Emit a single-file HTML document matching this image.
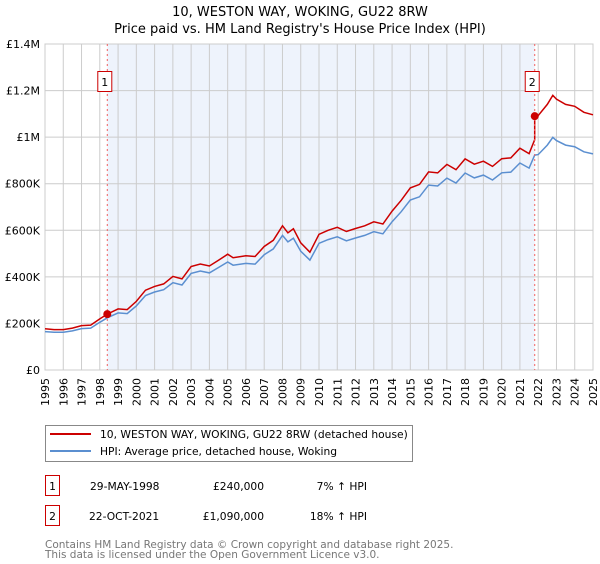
<!DOCTYPE html>
<html><head><meta charset="utf-8"><style>
body{margin:0;background:#fff;font-family:"DejaVu Sans","Liberation Sans",sans-serif;}
svg text{font-family:"DejaVu Sans","Liberation Sans",sans-serif;}
</style></head><body>
<svg id="c" width="600" height="560" xmlns="http://www.w3.org/2000/svg">
<text x="300" y="16" text-anchor="middle" font-size="13">10, WESTON WAY, WOKING, GU22 8RW</text>
<text x="300" y="33" text-anchor="middle" font-size="13">Price paid vs. HM Land Registry's House Price Index (HPI)</text>
<g id="plot"></g>
<g>
<rect x="45.5" y="425.5" width="367" height="36" fill="#fff" stroke="#888"/>
<line x1="50" y1="434" x2="91" y2="434" stroke="#cc0000" stroke-width="2"/>
<text x="100" y="438" font-size="10.7">10, WESTON WAY, WOKING, GU22 8RW (detached house)</text>
<line x1="50" y1="451" x2="91" y2="451" stroke="#5b8fd0" stroke-width="2"/>
<text x="100" y="455" font-size="10.7">HPI: Average price, detached house, Woking</text>
</g>
<g font-size="10.7">
<rect x="45.5" y="475.5" width="14" height="20" fill="#fff" stroke="#cc0000"/>
<text x="52.5" y="490" text-anchor="middle">1</text>
<text x="90" y="490">29-MAY-1998</text>
<text x="264" y="490" text-anchor="end">£240,000</text>
<text x="367" y="490" text-anchor="end">7% ↑ HPI</text>
<rect x="45.5" y="505.5" width="14" height="20" fill="#fff" stroke="#cc0000"/>
<text x="52.5" y="520" text-anchor="middle">2</text>
<text x="89" y="520">22-OCT-2021</text>
<text x="264" y="520" text-anchor="end">£1,090,000</text>
<text x="367" y="520" text-anchor="end">18% ↑ HPI</text>
</g>
<text x="45" y="548" font-size="10.5" fill="#777">Contains HM Land Registry data © Crown copyright and database right 2025.</text>
<text x="45" y="558" font-size="10.5" fill="#777">This data is licensed under the Open Government Licence v3.0.</text>
</svg>
<script>
const hpiYears=[1995,1995.5,1996,1996.5,1997,1997.5,1998,1998.41,1999,1999.5,2000,2000.5,2001,2001.5,2002,2002.5,2003,2003.5,2004,2004.5,2005,2005.3,2006,2006.5,2007,2007.5,2008,2008.3,2008.6,2009,2009.5,2010,2010.5,2011,2011.5,2012,2012.5,2013,2013.5,2014,2014.5,2015,2015.5,2016,2016.5,2017,2017.5,2018,2018.5,2019,2019.5,2020,2020.5,2021,2021.5,2021.81,2022,2022.5,2022.8,2023,2023.5,2024,2024.5,2025];
const hpiValues=[165,162,162,168,178,180,205,224,245,242,275,320,335,345,375,365,415,425,417,440,464,450,458,455,495,520,578,550,566,510,472,544,560,572,555,567,578,594,585,637,680,730,744,794,790,824,803,846,825,837,816,847,850,889,867,923,925,966,999,985,966,959,937,928];
const saleYears=[1998.41,2021.81];
const salePrices=[240,1090];
const yTicks=[0,200,400,600,800,1000,1200,1400];
const yTickLabels=["£0","£200K","£400K","£600K","£800K","£1M","£1.2M","£1.4M"];
const xTicks=[1995,1996,1997,1998,1999,2000,2001,2002,2003,2004,2005,2006,2007,2008,2009,2010,2011,2012,2013,2014,2015,2016,2017,2018,2019,2020,2021,2022,2023,2024,2025];
const NS="http://www.w3.org/2000/svg";
const X0=45,X1=593,Y0=370,Y1=44;
const xs=y=>X0+(y-1995)/30*(X1-X0);
const ys=v=>Y0-v/1400*(Y0-Y1);
const g=document.getElementById('plot');
function mk(t,a){const e=document.createElementNS(NS,t);for(const k in a)e.setAttribute(k,a[k]);g.appendChild(e);return e;}
const sh=mk('rect',{x:xs(saleYears[0]),y:Y1,width:xs(saleYears[1])-xs(saleYears[0]),height:Y0-Y1,fill:'#eef3fc'});


xTicks.forEach(t=>{const l=mk('line',{x1:xs(t),x2:xs(t),y1:Y1,y2:Y0,stroke:'#ccc'});


const tx=mk('text',{x:0,y:0,'font-size':11,'text-anchor':'end',transform:`translate(${xs(t)+4},${Y0+8}) rotate(-90)`});tx.textContent=t;

});
yTicks.forEach((t,i)=>{const l=mk('line',{x1:X0,x2:X1,y1:ys(t),y2:ys(t),stroke:'#ccc'});


const tx=mk('text',{x:40,y:ys(t)+4,'font-size':11,'text-anchor':'end'});tx.textContent=yTickLabels[i];

});
const fr=mk('rect',{x:X0,y:Y1,width:X1-X0,height:Y0-Y1,fill:'none',stroke:'#ccc'});


function hpiAt(y){for(let i=0;i<hpiYears.length-1;i++){if(y<=hpiYears[i+1]){const f=(y-hpiYears[i])/(hpiYears[i+1]-hpiYears[i]);return hpiValues[i]+f*(hpiValues[i+1]-hpiValues[i]);}}return hpiValues[hpiValues.length-1];}
const r1=salePrices[0]/hpiAt(saleYears[0]),r2=salePrices[1]/hpiAt(saleYears[1]);
let bp='',rp='';
hpiYears.forEach((y,i)=>{bp+=(i?'L':'M')+xs(y).toFixed(1)+','+ys(hpiValues[i]).toFixed(1);});
hpiYears.forEach((y,i)=>{const r=y<saleYears[1]?r1:r2;
if(y===saleYears[1])rp+='L'+xs(y).toFixed(1)+','+ys(hpiValues[i]*r1).toFixed(1);
rp+=(i?'L':'M')+xs(y).toFixed(1)+','+ys(hpiValues[i]*r).toFixed(1);});
const b=mk('path',{d:bp,fill:'none',stroke:'#5b8fd0','stroke-width':1.5});


const r=mk('path',{d:rp,fill:'none',stroke:'#cc0000','stroke-width':1.5});


saleYears.forEach((y,i)=>{const v=mk('line',{x1:xs(y),x2:xs(y),y1:Y1,y2:Y0,stroke:'#f06060','stroke-dasharray':'2,3'});


const c=mk('circle',{cx:xs(y),cy:ys(salePrices[i]),r:4,fill:'#cc0000'});


const bx=mk('rect',{x:xs(y)-9.5,y:71.5,width:14,height:20,fill:'#fff',stroke:'#cc0000'});


const t=mk('text',{x:xs(y)-2.5,y:86,'font-size':11,'text-anchor':'middle'});t.textContent=i+1;

});
</script>
</body></html>
